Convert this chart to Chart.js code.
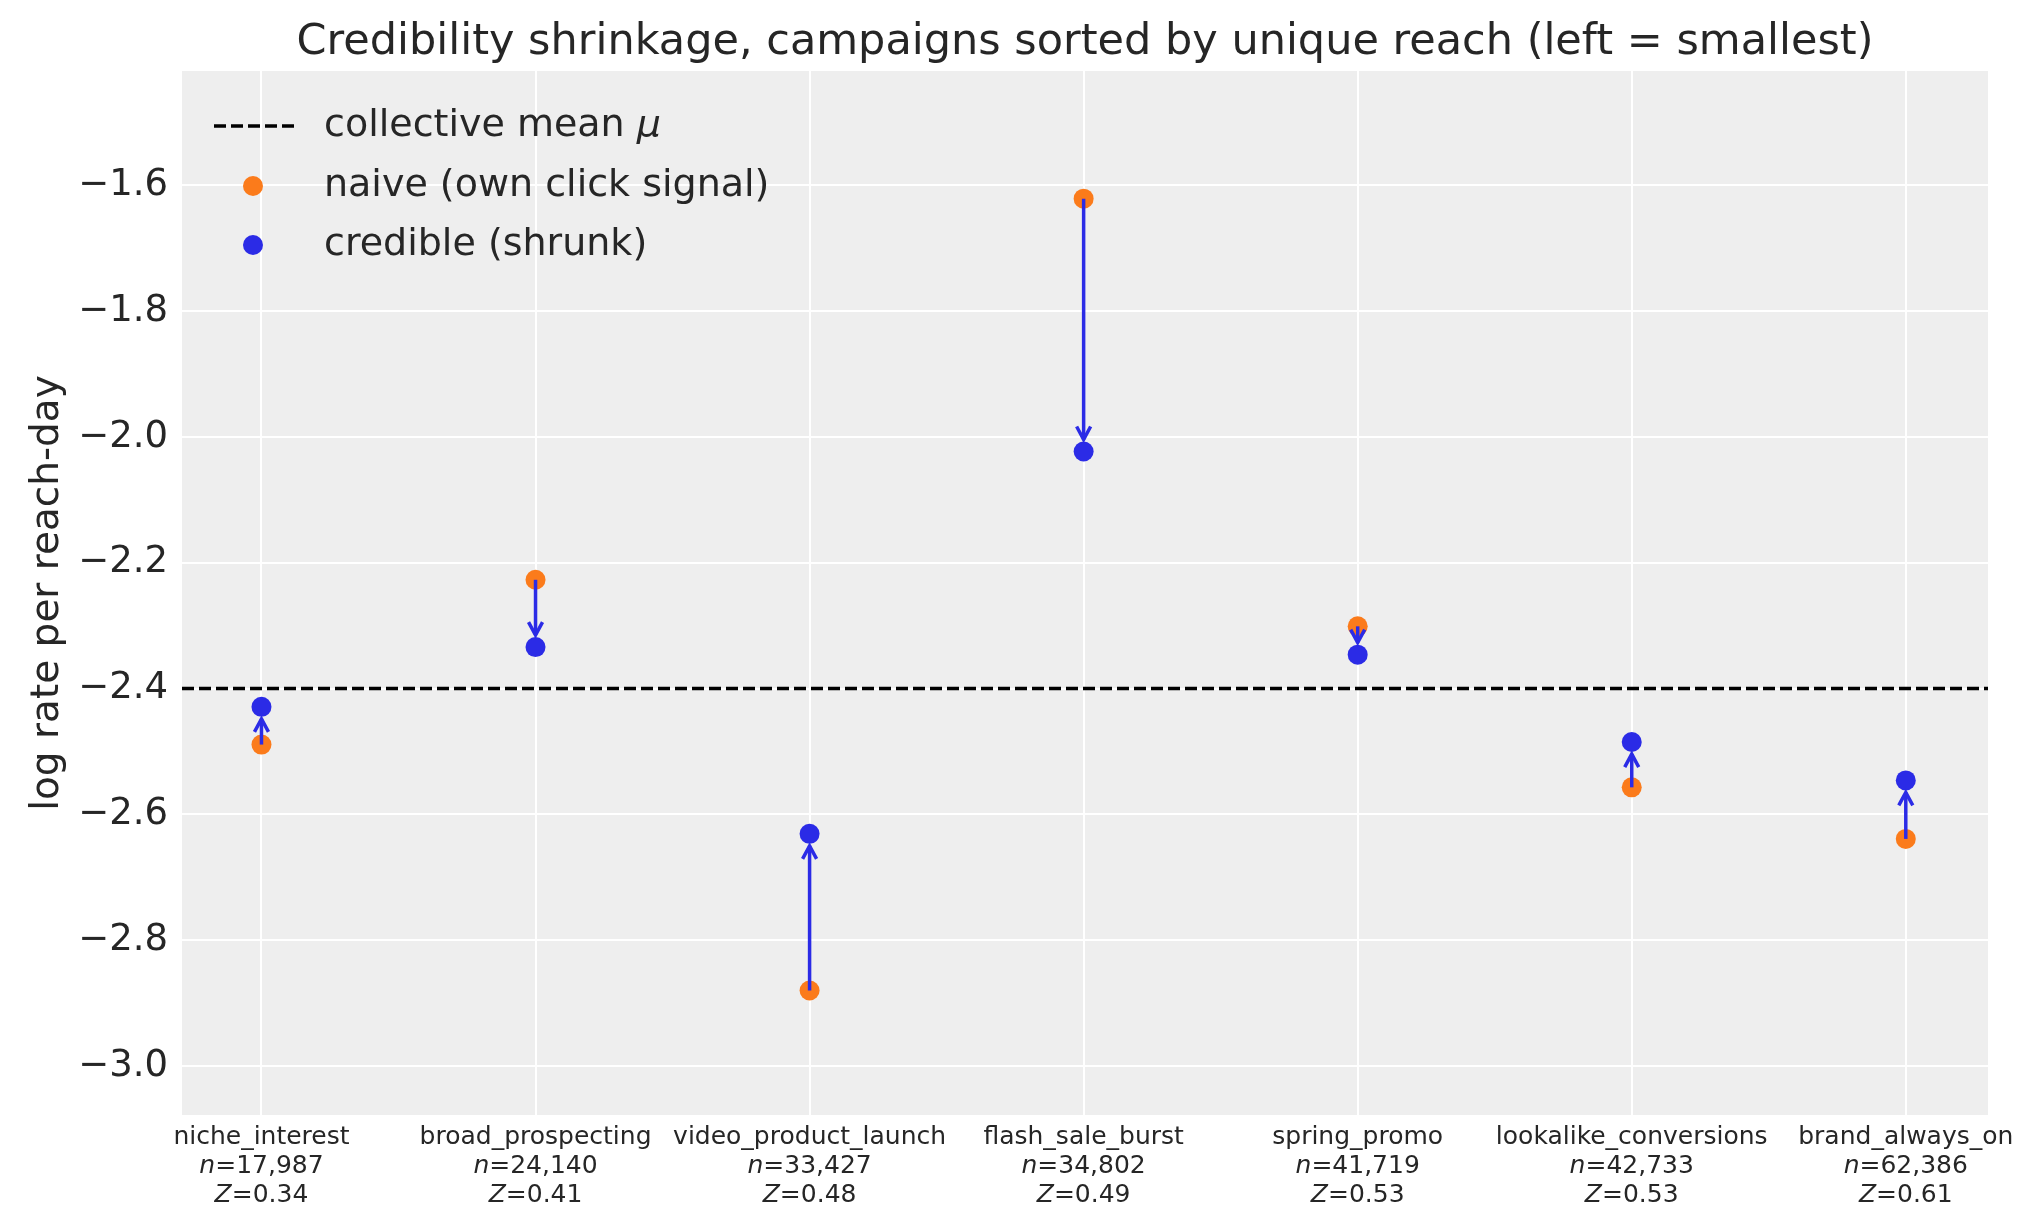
<!DOCTYPE html>
<html>
<head>
<meta charset="utf-8">
<script src="https://cdn.jsdelivr.net/npm/chart.js@4/dist/chart.umd.min.js"></script>
<style>body{margin:0;background:#fff}canvas{display:block}</style>
</head>
<body>
<canvas id="c" width="2023" height="1223"></canvas>
<script>
var campaigns = ['niche_interest', 'broad_prospecting', 'video_product_launch', 'flash_sale_burst',
    'spring_promo', 'lookalike_conversions', 'brand_always_on'];
var reachN = ['17,987', '24,140', '33,427', '34,802', '41,719', '42,733', '62,386'];
var zValues = ['0.34', '0.41', '0.48', '0.49', '0.53', '0.53', '0.61'];
var naive = [-2.489, -2.227, -2.880, -1.621, -2.301, -2.557, -2.639];
var credible = [-2.429, -2.334, -2.631, -2.023, -2.346, -2.485, -2.546];
var collectiveMean = -2.400;
var yTicks = [-3.0, -2.8, -2.6, -2.4, -2.2, -2.0, -1.8, -1.6];

var ORANGE = '#fb7b1b';
var BLUE = '#2b2be6';
var FONT = '"DejaVu Sans", sans-serif';
var TXT = '#262626';
var XF = 25;

function pts(vals) {
    return vals.map(function (v, i) { return { x: i, y: v }; });
}

var decor = {
    id: 'decor',
    beforeDraw: function (chart) {
        var a = chart.chartArea, ctx = chart.ctx;
        ctx.save();
        ctx.fillStyle = '#eeeeee';
        ctx.fillRect(a.left, a.top, a.right - a.left, a.bottom - a.top);
        ctx.restore();
    },
    afterDatasetsDraw: function (chart) {
        var ctx = chart.ctx, xs = chart.scales.x, ys = chart.scales.y, a = chart.chartArea;
        ctx.save();
        // arrows naive -> credible
        ctx.strokeStyle = BLUE;
        ctx.lineWidth = 3.5;
        for (var i = 0; i < naive.length; i++) {
            var x = xs.getPixelForValue(i);
            var y0 = ys.getPixelForValue(naive[i]);
            var y1 = ys.getPixelForValue(credible[i]);
            var dir = y1 > y0 ? 1 : -1;
            var tip = y1 - dir * 12;
            ctx.beginPath();
            ctx.moveTo(x, y0);
            ctx.lineTo(x, tip);
            ctx.stroke();
            ctx.beginPath();
            ctx.moveTo(x - 7, tip - dir * 13);
            ctx.lineTo(x, tip);
            ctx.lineTo(x + 7, tip - dir * 13);
            ctx.stroke();
        }
        // x tick labels
        ctx.fillStyle = TXT;
        ctx.textAlign = 'center';
        ctx.textBaseline = 'top';
        for (var j = 0; j < campaigns.length; j++) {
            var px = xs.getPixelForValue(j);
            var top = a.bottom + 10;
            ctx.font = XF + 'px ' + FONT;
            ctx.fillText(campaigns[j], px, top);
            drawMixed(ctx, 'n', '=' + reachN[j], px, top + 29);
            drawMixed(ctx, 'Z', '=' + zValues[j], px, top + 58);
        }
        // title
        ctx.font = '43px ' + FONT;
        ctx.textBaseline = 'alphabetic';
        ctx.fillText('Credibility shrinkage, campaigns sorted by unique reach (left = smallest)', (a.left + a.right) / 2, 54);
        // y title
        ctx.save();
        ctx.translate(58, (a.top + a.bottom) / 2);
        ctx.rotate(-Math.PI / 2);
        ctx.font = '39px ' + FONT;
        ctx.fillText('log rate per reach-day', 0, 0);
        ctx.restore();
        // legend
        var lx = a.left + 32, ly = a.top + 55;
        ctx.strokeStyle = '#000';
        ctx.lineWidth = 3.5;
        ctx.setLineDash([12, 5]);
        ctx.beginPath();
        ctx.moveTo(lx, ly);
        ctx.lineTo(lx + 80, ly);
        ctx.stroke();
        ctx.setLineDash([]);
        ctx.fillStyle = ORANGE;
        ctx.beginPath(); ctx.arc(lx + 39, ly + 60, 10, 0, Math.PI * 2); ctx.fill();
        ctx.fillStyle = BLUE;
        ctx.beginPath(); ctx.arc(lx + 39, ly + 119, 10, 0, Math.PI * 2); ctx.fill();
        ctx.fillStyle = TXT;
        ctx.textAlign = 'left';
        ctx.textBaseline = 'middle';
        ctx.font = '38px ' + FONT;
        ctx.fillText('collective mean ', lx + 110, ly);
        var w = ctx.measureText('collective mean ').width;
        ctx.font = 'italic 38px ' + FONT;
        ctx.fillText('\u03bc', lx + 110 + w, ly);
        ctx.font = '38px ' + FONT;
        ctx.fillText('naive (own click signal)', lx + 110, ly + 60);
        ctx.fillText('credible (shrunk)', lx + 110, ly + 119);
        ctx.restore();
    }
};

function drawMixed(ctx, it, rest, cx, y) {
    ctx.font = 'italic ' + XF + 'px ' + FONT;
    var w1 = ctx.measureText(it).width;
    ctx.font = XF + 'px ' + FONT;
    var w2 = ctx.measureText(rest).width;
    var start = cx - (w1 + w2) / 2;
    ctx.textAlign = 'left';
    ctx.font = 'italic ' + XF + 'px ' + FONT;
    ctx.fillText(it, start, y);
    ctx.font = XF + 'px ' + FONT;
    ctx.fillText(rest, start + w1, y);
    ctx.textAlign = 'center';
}

new Chart(document.getElementById('c'), {
    type: 'scatter',
    data: {
        datasets: [
            {
                label: 'collective mean',
                type: 'line',
                data: [{ x: -0.29, y: collectiveMean }, { x: 6.30, y: collectiveMean }],
                borderColor: '#000',
                borderWidth: 3.5,
                borderDash: [12, 5],
                pointRadius: 0
            },
            {
                label: 'naive (own click signal)',
                data: pts(naive),
                backgroundColor: ORANGE,
                borderWidth: 0,
                pointRadius: 10
            },
            {
                label: 'credible (shrunk)',
                data: pts(credible),
                backgroundColor: BLUE,
                borderWidth: 0,
                pointRadius: 10
            }
        ]
    },
    options: {
        responsive: false,
        animation: false,
        devicePixelRatio: 1,
        layout: { padding: { top: 71, right: 35, left: 0, bottom: 0 } },
        plugins: { legend: { display: false }, tooltip: { enabled: false } },
        scales: {
            x: {
                type: 'linear',
                min: -0.29,
                max: 6.30,
                afterFit: function (s) { s.height = 108; },
                afterBuildTicks: function (s) {
                    s.ticks = campaigns.map(function (c, i) { return { value: i }; });
                },
                ticks: { display: false },
                grid: { color: '#ffffff', lineWidth: 2, drawTicks: false },
                border: { display: false }
            },
            y: {
                min: -3.078,
                max: -1.418,
                afterFit: function (s) { s.width = 182; },
                afterBuildTicks: function (s) {
                    s.ticks = yTicks.map(function (v) { return { value: v }; });
                },
                ticks: {
                    color: TXT,
                    font: { family: FONT, size: 37 },
                    padding: 14,
                    callback: function (v) { return '\u2212' + Math.abs(v).toFixed(1); }
                },
                grid: { color: '#ffffff', lineWidth: 2, drawTicks: false },
                border: { display: false }
            }
        }
    },
    plugins: [decor]
});
</script>
</body>
</html>
